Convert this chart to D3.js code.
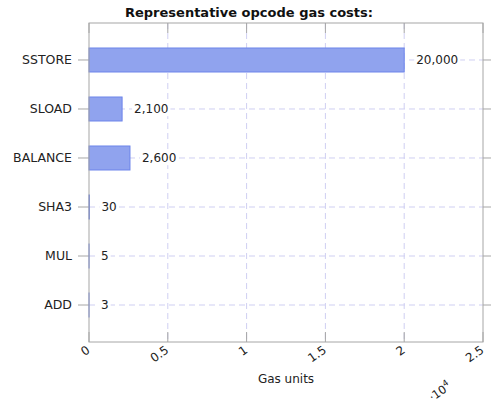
<!DOCTYPE html>
<html lang="en">
<head>
    <meta charset="UTF-8" />
    <title>Representative opcode gas costs</title>
    <script src="https://d3js.org/d3.v7.min.js"></script>
    <style>
        body { margin: 0; background: #fff; }
        svg { font-family: "DejaVu Sans", sans-serif; }
    </style>
</head>
<body>
    <div id="chart"></div>
    <script>
        // data
        const opcodes = ["SSTORE", "SLOAD", "BALANCE", "SHA3", "MUL", "ADD"];
        const gasCosts = [20000, 2100, 2600, 30, 5, 3];
        const xTicks = [0, 5000, 10000, 15000, 20000, 25000];
        const xTickLabels = ["0", "0.5", "1", "1.5", "2", "2.5"];

        const width = 491;
        const height = 406;
        const marginTop = 23;
        const marginRight = 8;
        const marginBottom = 64;
        const marginLeft = 89;

        const x = d3.scaleLinear()
            .domain([0, 25000])
            .range([marginLeft, width - marginRight]);

        const y = d3.scalePoint()
            .domain(opcodes)
            .range([marginTop, height - marginBottom])
            .padding(0.755);

        const svg = d3.select("#chart")
            .append("svg")
            .attr("width", width)
            .attr("height", height);

        const gridColor = "#cfcff2";
        const frameColor = "#a6a6a6";

        // grid lines
        svg.append("g")
            .selectAll("line")
            .data(xTicks.slice(1, -1))
            .join("line")
            .attr("x1", d => x(d)).attr("x2", d => x(d))
            .attr("y1", marginTop).attr("y2", height - marginBottom)
            .attr("stroke", gridColor)
            .attr("stroke-dasharray", "6,4");

        svg.append("g")
            .selectAll("line")
            .data(opcodes)
            .join("line")
            .attr("x1", marginLeft).attr("x2", width - marginRight)
            .attr("y1", d => y(d)).attr("y2", d => y(d))
            .attr("stroke", gridColor)
            .attr("stroke-dasharray", "6,4");

        // x tick marks (top and bottom, inward)
        const tickG = svg.append("g").attr("stroke", frameColor);
        tickG.selectAll(".tt")
            .data(xTicks)
            .join("line")
            .attr("x1", d => x(d)).attr("x2", d => x(d))
            .attr("y1", marginTop).attr("y2", marginTop + 10);
        tickG.selectAll(".tb")
            .data(xTicks)
            .join("line")
            .attr("x1", d => x(d)).attr("x2", d => x(d))
            .attr("y1", height - marginBottom).attr("y2", height - marginBottom - 10);
        // y tick marks (outward both sides)
        tickG.selectAll(".yl")
            .data(opcodes)
            .join("line")
            .attr("x1", marginLeft - 11).attr("x2", marginLeft)
            .attr("y1", d => y(d)).attr("y2", d => y(d));
        tickG.selectAll(".yr")
            .data(opcodes)
            .join("line")
            .attr("x1", width - marginRight).attr("x2", width - marginRight + 8)
            .attr("y1", d => y(d)).attr("y2", d => y(d));

        // bars
        const barH = 24;
        svg.append("g")
            .selectAll("rect")
            .data(opcodes)
            .join("rect")
            .attr("x", x(0))
            .attr("y", d => y(d) - barH / 2)
            .attr("width", (d, i) => x(gasCosts[i]) - x(0))
            .attr("height", barH)
            .attr("fill", "#90a3ee")
            .attr("stroke", "#6c84ea")
            .attr("stroke-width", 1);

        // value labels
        const fmt = d3.format(",");
        const labelG = svg.append("g");
        opcodes.forEach((op, i) => {
            const t = labelG.append("text")
                .attr("x", x(gasCosts[i]) + 12)
                .attr("y", y(op))
                .attr("dy", "0.35em")
                .attr("font-size", 12)
                .attr("fill", "#222")
                .text(fmt(gasCosts[i]));
            const bb = t.node().getBBox();
            labelG.insert("rect", "text")
                .attr("x", bb.x - 2).attr("y", bb.y)
                .attr("width", bb.width + 4).attr("height", bb.height)
                .attr("fill", "#fff");
        });

        // frame
        svg.append("rect")
            .attr("x", marginLeft)
            .attr("y", marginTop)
            .attr("width", width - marginRight - marginLeft)
            .attr("height", height - marginBottom - marginTop)
            .attr("fill", "none")
            .attr("stroke", frameColor);

        // y labels
        svg.append("g")
            .selectAll("text")
            .data(opcodes)
            .join("text")
            .attr("x", marginLeft - 17)
            .attr("y", d => y(d))
            .attr("dy", "0.35em")
            .attr("text-anchor", "end")
            .attr("font-size", 12.5)
            .attr("fill", "#222")
            .text(d => d);

        // x tick labels, rotated
        svg.append("g")
            .selectAll("text")
            .data(xTicks)
            .join("text")
            .attr("transform", d => `translate(${x(d) - 3},${height - marginBottom + 3}) rotate(-35)`)
            .attr("dy", "0.7em")
            .attr("text-anchor", "end")
            .attr("font-size", 12)
            .attr("fill", "#222")
            .text((d, i) => xTickLabels[i]);

        // exponent label
        const expo = svg.append("text")
            .attr("transform", `translate(452,388) rotate(-35)`)
            .attr("text-anchor", "end")
            .attr("font-size", 11.5)
            .attr("fill", "#222");
        expo.append("tspan").text("\u00b710");
        expo.append("tspan").attr("dy", -5).attr("font-size", 8.5).text("4");

        // axis title
        svg.append("text")
            .attr("x", (marginLeft + width - marginRight) / 2)
            .attr("y", 383)
            .attr("text-anchor", "middle")
            .attr("font-size", 12)
            .attr("fill", "#222")
            .text("Gas units");

        // chart title
        svg.append("text")
            .attr("x", 249)
            .attr("y", 17)
            .attr("text-anchor", "middle")
            .attr("font-size", 13)
            .attr("font-weight", "bold")
            .attr("fill", "#111")
            .text("Representative opcode gas costs:");
    </script>
</body>
</html>
